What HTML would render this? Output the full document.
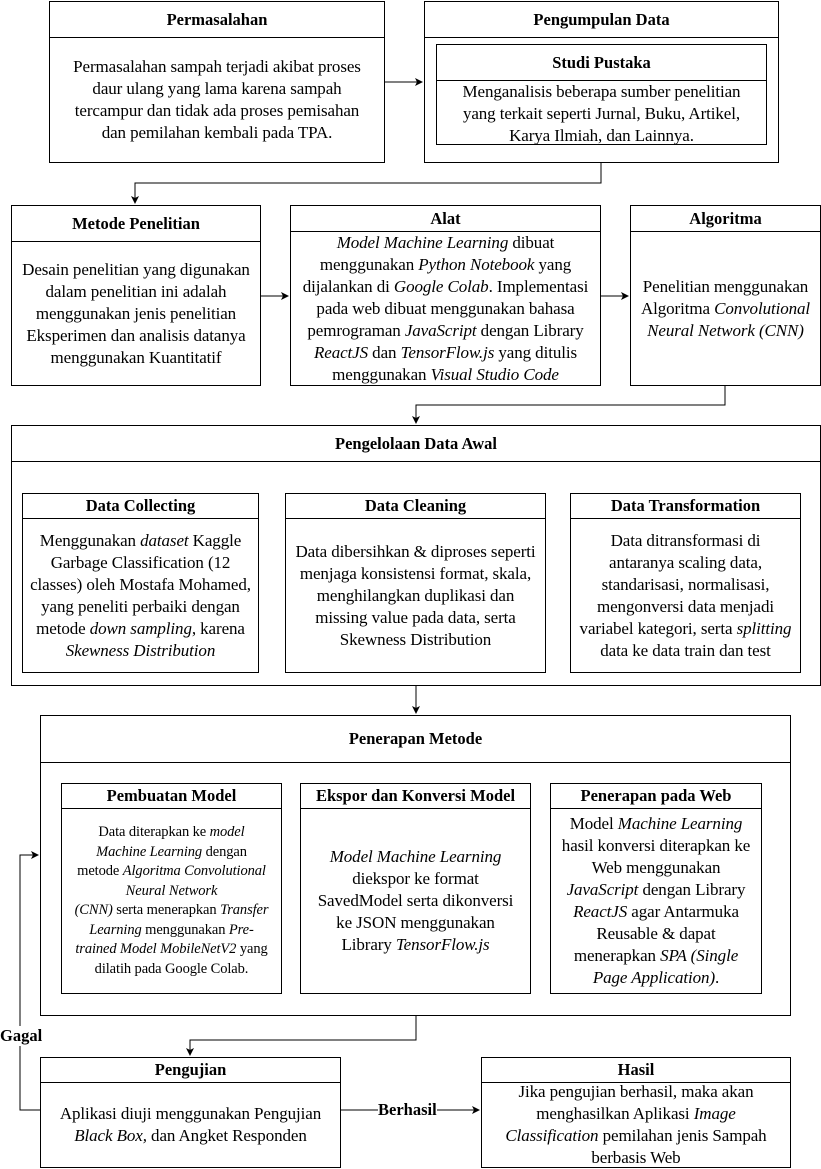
<!DOCTYPE html>
<html><head><meta charset="utf-8"><style>
body{margin:0;width:821px;height:1168px;position:relative;background:#fff;font-family:"Liberation Serif",serif;color:#000;overflow:hidden}
.b{position:absolute;border:1px solid #000;box-sizing:border-box;background:#fff}
.h{position:absolute;left:0;right:0;top:0;border-bottom:1px solid #000;font-weight:bold;font-size:16.5px;text-align:center;box-sizing:border-box;display:flex;align-items:center;justify-content:center;white-space:nowrap}
.t{position:absolute;left:0;right:0;bottom:0;display:flex;align-items:center;justify-content:center;text-align:center;font-size:17px;line-height:22px;padding:0;white-space:nowrap;letter-spacing:-0.1px}
.s{font-size:14.5px;line-height:19.5px}
svg{position:absolute;left:0;top:0}
.lab{position:absolute;font-weight:bold;font-size:16.5px;background:#fff}
</style></head><body>
<svg width="821" height="1168">
<defs><marker id="a" markerWidth="8" markerHeight="8" refX="7" refY="4" orient="auto" markerUnits="userSpaceOnUse"><path d="M0,0 L8,4 L0,8 L2,4z" fill="#000"/></marker></defs>
<g stroke="#000" stroke-width="1" fill="none">
<path d="M384,82 H422" marker-end="url(#a)"/>
<path d="M601,162 V183 H135 V203" marker-end="url(#a)"/>
<path d="M260,296 H288" marker-end="url(#a)"/>
<path d="M600,296 H628" marker-end="url(#a)"/>
<path d="M725,385 V405 H416 V423" marker-end="url(#a)"/>
<path d="M143,493 V473 H685 V493"/>
<path d="M416,685 V713" marker-end="url(#a)"/>
<path d="M170,783 V766 H655 V783"/>
<path d="M416,1015 V1040 H190 V1055" marker-end="url(#a)"/>
<path d="M340,1110 H479" marker-end="url(#a)"/>
<path d="M40,1110 H20 V855 H38" marker-end="url(#a)"/>
</g></svg>

<div class="b" style="left:49px;top:1px;width:336px;height:162px"><div class="h" style="height:36px">Permasalahan</div><div class="t" style="top:36px"><div>Permasalahan sampah terjadi akibat proses<br>daur ulang yang lama karena sampah<br>tercampur dan tidak ada proses pemisahan<br>dan pemilahan kembali pada TPA.</div></div></div>

<div class="b" style="left:424px;top:1px;width:355px;height:162px"><div class="h" style="height:36px">Pengumpulan Data</div>
<div class="b" style="left:11px;top:42px;width:331px;height:101px"><div class="h" style="height:36px">Studi Pustaka</div><div class="t" style="top:36px;align-items:flex-start"><div>Menganalisis beberapa sumber penelitian<br>yang terkait seperti Jurnal, Buku, Artikel,<br>Karya Ilmiah, dan Lainnya.</div></div></div></div>

<div class="b" style="left:11px;top:205px;width:250px;height:181px"><div class="h" style="height:36px">Metode Penelitian</div><div class="t" style="top:36px"><div>Desain penelitian yang digunakan<br>dalam penelitian ini adalah<br>menggunakan jenis penelitian<br>Eksperimen dan analisis datanya<br>menggunakan Kuantitatif</div></div></div>

<div class="b" style="left:290px;top:205px;width:311px;height:181px"><div class="h" style="height:26px">Alat</div><div class="t" style="top:26px"><div><i>Model Machine Learning</i> dibuat<br>menggunakan <i>Python Notebook</i> yang<br>dijalankan di <i>Google Colab</i>. Implementasi<br>pada web dibuat menggunakan bahasa<br>pemrograman <i>JavaScript</i> dengan Library<br><i>ReactJS</i> dan <i>TensorFlow.js</i> yang ditulis<br>menggunakan <i>Visual Studio Code</i></div></div></div>

<div class="b" style="left:630px;top:205px;width:191px;height:181px"><div class="h" style="height:26px">Algoritma</div><div class="t" style="top:26px"><div>Penelitian menggunakan<br>Algoritma <i>Convolutional</i><br><i>Neural Network (CNN)</i></div></div></div>

<div class="b" style="left:11px;top:425px;width:810px;height:261px"><div class="h" style="height:36px">Pengelolaan Data Awal</div></div>
<div class="b" style="left:22px;top:493px;width:237px;height:180px"><div class="h" style="height:25px">Data Collecting</div><div class="t" style="top:25px"><div>Menggunakan <i>dataset</i> Kaggle<br>Garbage Classification (12<br>classes) oleh Mostafa Mohamed,<br>yang peneliti perbaiki dengan<br>metode <i>down sampling</i>, karena<br><i>Skewness Distribution</i></div></div></div>
<div class="b" style="left:285px;top:493px;width:261px;height:180px"><div class="h" style="height:25px">Data Cleaning</div><div class="t" style="top:25px"><div>Data dibersihkan &amp; diproses seperti<br>menjaga konsistensi format, skala,<br>menghilangkan duplikasi dan<br>missing value pada data, serta<br>Skewness Distribution</div></div></div>
<div class="b" style="left:570px;top:493px;width:231px;height:180px"><div class="h" style="height:25px">Data Transformation</div><div class="t" style="top:25px"><div>Data ditransformasi di<br>antaranya scaling data,<br>standarisasi, normalisasi,<br>mengonversi data menjadi<br>variabel kategori, serta <i>splitting</i><br>data ke data train dan test</div></div></div>

<div class="b" style="left:40px;top:715px;width:751px;height:301px"><div class="h" style="height:47px">Penerapan Metode</div></div>
<div class="b" style="left:61px;top:783px;width:221px;height:211px"><div class="h" style="height:25px">Pembuatan Model</div><div class="t s" style="top:25px"><div>Data diterapkan ke <i>model</i><br><i>Machine Learning</i> dengan<br>metode <i>Algoritma Convolutional</i><br><i>Neural Network</i><br><i>(CNN)</i> serta menerapkan <i>Transfer</i><br><i>Learning</i> menggunakan <i>Pre-</i><br><i>trained Model MobileNetV2</i> yang<br>dilatih pada Google Colab.</div></div></div>
<div class="b" style="left:300px;top:783px;width:231px;height:211px"><div class="h" style="height:25px">Ekspor dan Konversi Model</div><div class="t" style="top:25px"><div><i>Model Machine Learning</i><br>diekspor ke format<br>SavedModel serta dikonversi<br>ke JSON menggunakan<br>Library <i>TensorFlow.js</i></div></div></div>
<div class="b" style="left:550px;top:783px;width:212px;height:211px"><div class="h" style="height:25px">Penerapan pada Web</div><div class="t" style="top:25px"><div>Model <i>Machine Learning</i><br>hasil konversi diterapkan ke<br>Web menggunakan<br><i>JavaScript</i> dengan Library<br><i>ReactJS</i> agar Antarmuka<br>Reusable &amp; dapat<br>menerapkan <i>SPA (Single</i><br><i>Page Application)</i>.</div></div></div>

<div class="b" style="left:40px;top:1057px;width:301px;height:111px"><div class="h" style="height:25px">Pengujian</div><div class="t" style="top:25px"><div>Aplikasi diuji menggunakan Pengujian<br><i>Black Box,</i> dan Angket Responden</div></div></div>
<div class="b" style="left:481px;top:1057px;width:310px;height:111px"><div class="h" style="height:25px">Hasil</div><div class="t" style="top:25px"><div>Jika pengujian berhasil, maka akan<br>menghasilkan Aplikasi <i>Image</i><br><i>Classification</i> pemilahan jenis Sampah<br>berbasis Web</div></div></div>

<div class="lab" style="left:378px;top:1100px">Berhasil</div>
<div class="lab" style="left:0px;top:1026px">Gagal</div>
</body></html>
